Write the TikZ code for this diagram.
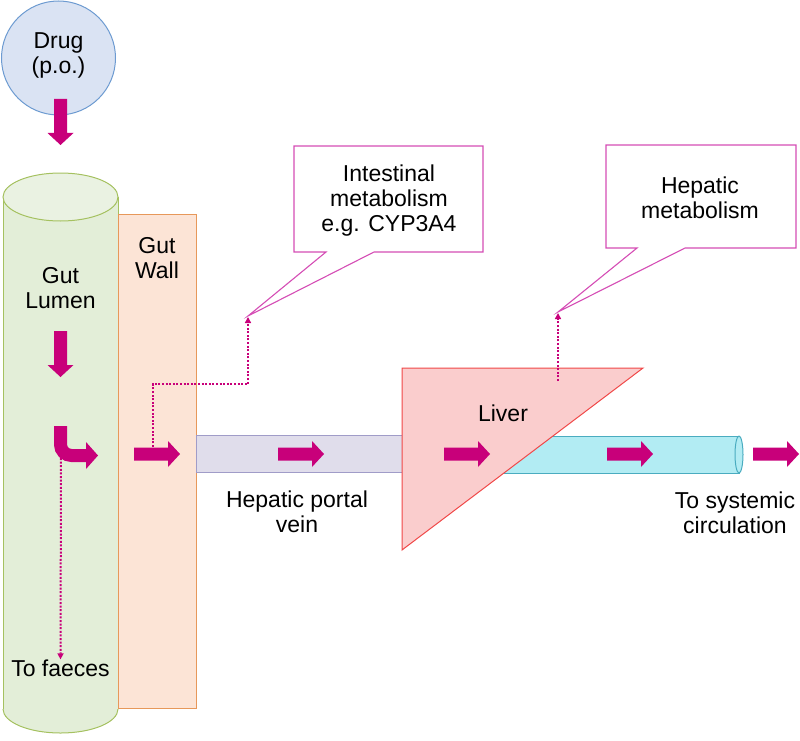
\documentclass[tikz,border=0pt]{standalone}
\usepackage{fontspec}
\setmainfont{Liberation Sans}
\usetikzlibrary{arrows.meta}
\definecolor{mag}{HTML}{C8007A}
\definecolor{callc}{HTML}{D54DB5}
\definecolor{drugfill}{HTML}{DAE3F3}
\definecolor{drugline}{HTML}{6D9BD1}
\definecolor{gutfill}{HTML}{E3EED8}
\definecolor{guttop}{HTML}{EAF2E2}
\definecolor{gutline}{HTML}{A5C160}
\definecolor{wallfill}{HTML}{FCE4D6}
\definecolor{wallline}{HTML}{E7985A}
\definecolor{pvfill}{HTML}{E0DDEB}
\definecolor{pvline}{HTML}{A09CC8}
\definecolor{livfill}{HTML}{FACDCD}
\definecolor{livline}{HTML}{F04848}
\definecolor{tubefill}{HTML}{B2ECF3}
\definecolor{tubeline}{HTML}{4AACC0}
\begin{document}
\begin{tikzpicture}[x=1pt,y=-1pt,
  lbl/.style={inner sep=0pt,align=center,font=\fontsize{23}{25}\selectfont},
  barrow/.pic={\fill[mag] (0,-6.5) -- (34,-6.5) -- (34,-13) -- (46,0) -- (34,13) -- (34,6.5) -- (0,6.5) -- cycle;},
  dotline/.style={mag,line width=2pt,dash pattern=on 2pt off 1.6pt,-{Triangle[length=6pt,width=6pt]}},
  callout/.style={callc,line width=1.1pt,fill=white,line join=miter}]
\useasboundingbox (0,0) rectangle (800,741);

% drug circle
\node[circle,draw=drugline,fill=drugfill,line width=1pt,minimum size=114pt,inner sep=0pt] (drug) at (58.5,58) {};
\node[lbl] (drugt) at (58.5,55) {Drug\\(p.o.)};
\pic[rotate=-90] at (60.5,99) {barrow};

% gut lumen cylinder
\fill[gutfill] (3,197) rectangle (118,709);
\fill[gutfill] (60.5,709) ellipse [x radius=57.5, y radius=24];
\begin{scope}
\clip (-2,709) rectangle (125,741);
\draw[gutline,line width=1pt] (60.5,709) ellipse [x radius=57.5, y radius=24];
\end{scope}
\draw[gutline,line width=1pt] (3,197) -- (3,709) (118,197) -- (118,709);
\draw[gutline,line width=1pt,fill=guttop] (60.5,197) ellipse [x radius=57.5, y radius=24];
\coordinate (lumen) at (60.5,400);

% gut wall
\draw[wallline,fill=wallfill,line width=1pt] (118,214) rectangle (196,708);
\coordinate (wall) at (157,400);

% portal vein
\draw[pvline,fill=pvfill,line width=1pt] (196,435) rectangle (420,472);

% systemic tube
\draw[tubeline,fill=tubefill,line width=1pt] (460,436) -- (739,436) -- (739,473) -- (460,473);
\draw[tubeline,fill=tubefill,line width=1pt] (739,454.5) ellipse [x radius=4, y radius=18.5];

% liver
\draw[livline,fill=livfill,line width=1pt] (402,368) -- (643,368) -- (402,550) -- cycle;
\coordinate (liver) at (480,420);

% labels
\node[lbl] (gl) at (60.5,288) {Gut\\Lumen};
\node[lbl] (gw) at (157,258) {Gut\\Wall};
\node[lbl] (lv) at (503,413) {Liver};
\node[lbl] (hpv) at (297,512) {Hepatic portal\\vein};
\node[lbl] (tsc) at (735,513) {To systemic\\circulation};
\node[lbl] (tf) at (60.5,668) {To faeces};

% lumen arrows
\pic[rotate=-90] at (60.5,331) {barrow};
\draw[mag,line width=13pt,rounded corners=11pt] (60.5,426) |- (87,455.5);
\fill[mag] (86,442) -- (98,455.5) -- (86,469) -- cycle;
\coordinate (bend) at (61,458);
\draw[dotline] (bend) -- (tf.north);

% flow arrows
\pic at (134,454) {barrow};
\pic at (278,454) {barrow};
\pic at (444,454) {barrow};
\pic at (607,454) {barrow};
\pic at (753,454) {barrow};

% callouts
\draw[callout] (294,146) -- (483,146) -- (483,252) -- (374,252) -- (248,316) -- (326,252) -- (294,252) -- cycle;
\node[lbl] (im) at (389,201) {Intestinal\\metabolism\\e.g. CYP3A4};
\coordinate (imtip) at (248,317);
\draw[callout] (606,145) -- (796,145) -- (796,248) -- (685,248) -- (558,312) -- (637,248) -- (606,248) -- cycle;
\node[lbl] (hm) at (700,198) {Hepatic\\metabolism};
\coordinate (hmtip) at (558,313);

% dotted metabolism paths
\coordinate (wallstart) at (153,447);
\draw[dotline] (wallstart) -- (153,384) -- (248,384) -- (imtip);
\coordinate (livstart) at (558,381);
\draw[dotline] (livstart) -- (hmtip);
\end{tikzpicture}
\end{document}
